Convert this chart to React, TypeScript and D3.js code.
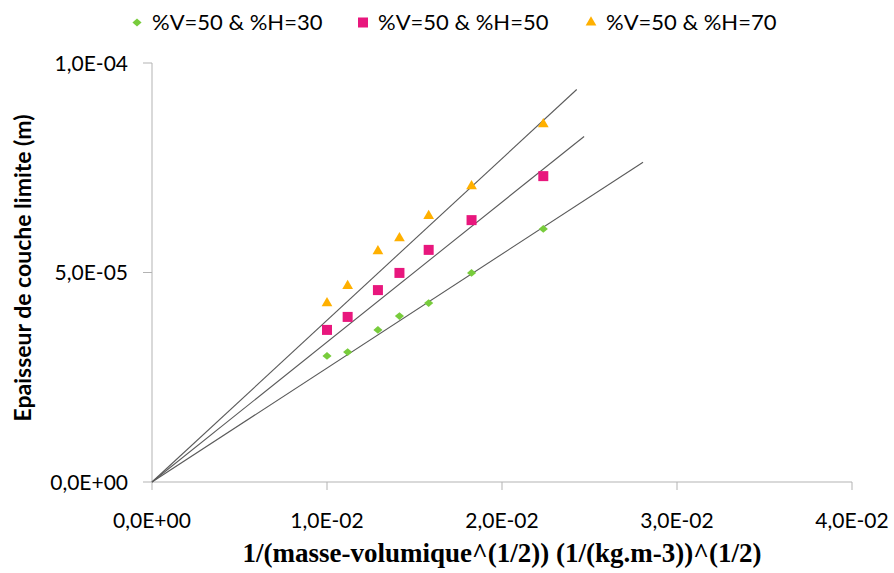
import React from "react";
import * as d3 from "d3";

const xValues = [0.01, 0.01118, 0.01291, 0.01414, 0.01581, 0.01826, 0.02236];
const seriesNames = ["%V=50 & %H=30", "%V=50 & %H=50", "%V=50 & %H=70"];
const seriesH30 = [3.01e-5, 3.10e-5, 3.63e-5, 3.96e-5, 4.27e-5, 4.99e-5, 6.04e-5];
const seriesH50 = [3.63e-5, 3.94e-5, 4.58e-5, 4.99e-5, 5.54e-5, 6.25e-5, 7.30e-5];
const seriesH70 = [4.27e-5, 4.68e-5, 5.51e-5, 5.82e-5, 6.35e-5, 7.06e-5, 8.54e-5];
const trendSlopes = [2.72e-3, 3.34e-3, 3.86e-3];
const trendEndX = [0.02806, 0.02469, 0.02427];
const xTicks = [0, 0.01, 0.02, 0.03, 0.04];
const yTicks = [0, 5e-5, 1e-4];
const colors = ["#78cc3c", "#e8177d", "#ffb000"];
const shapes = ["diamond", "square", "triangle"];

const fmt = (v: number) => {
  const [m, e] = v.toExponential(1).split("e");
  const n = parseInt(e, 10);
  const sign = n < 0 ? "-" : "+";
  const ab = Math.abs(n).toString().padStart(2, "0");
  return m.replace(".", ",") + "E" + sign + ab;
};

function Marker({ shape, x, y, color }: { shape: string; x: number; y: number; color: string }) {
  if (shape === "diamond") {
    const s = d3.symbol().type(d3.symbolDiamond2).size(44)();
    return <path d={s!} transform={`translate(${x},${y}) scale(1.1,0.95)`} fill={color} />;
  }
  if (shape === "square") {
    return <rect x={x - 5} y={y - 5} width={10} height={10} fill={color} />;
  }
  const s = d3.symbol().type(d3.symbolTriangle).size(50)();
  return <path d={s!} transform={`translate(${x},${y})`} fill={color} />;
}

export default function App() {
  const W = 894, H = 573;
  const x = d3.scaleLinear().domain([0, 0.04]).range([152, 852]);
  const y = d3.scaleLinear().domain([0, 1e-4]).range([482, 63]);
  const series = [seriesH30, seriesH50, seriesH70];
  const sans = "Lato, 'Open Sans', sans-serif";
  const legendX = [137, 363, 591];
  const line = d3.line<[number, number]>().x(d => x(d[0])).y(d => y(d[1]));

  return (
    <svg width={W} height={H} style={{ position: "absolute", left: 0, top: 0, background: "#fff" }}>
      {/* axes */}
      <line x1={152} y1={y(0)} x2={852} y2={y(0)} stroke="#b3b3b3" strokeWidth={1} />
      <line x1={152} y1={y(1e-4)} x2={152} y2={y(0)} stroke="#b3b3b3" strokeWidth={1} />
      {xTicks.map(t => (
        <g key={"xt" + t}>
          <line x1={x(t)} x2={x(t)} y1={y(0)} y2={y(0) + 8} stroke="#b3b3b3" />
          <text x={x(t)} y={528} textAnchor="middle" fontFamily={sans} fontSize={21} fill="#000">{fmt(t)}</text>
        </g>
      ))}
      {yTicks.map(t => (
        <g key={"yt" + t}>
          <line x1={143} x2={152} y1={y(t)} y2={y(t)} stroke="#b3b3b3" />
          <text x={128} y={y(t)} dy="0.36em" textAnchor="end" fontFamily={sans} fontSize={21} fill="#000">{fmt(t)}</text>
        </g>
      ))}
      {/* trend lines */}
      {trendSlopes.map((s, i) => (
        <path key={"tr" + i} d={line([[0, 0], [trendEndX[i], s * trendEndX[i]]])!} stroke="#5a5a5a" strokeWidth={1.1} fill="none" />
      ))}
      {/* markers */}
      {series.map((vals, i) =>
        vals.map((v, j) => (
          <Marker key={`m${i}-${j}`} shape={shapes[i]} x={x(xValues[j])} y={y(v)} color={colors[i]} />
        ))
      )}
      {/* legend */}
      {seriesNames.map((n, i) => (
        <g key={"lg" + i}>
          <Marker shape={shapes[i]} x={legendX[i]} y={22.5} color={colors[i]} />
          <text x={legendX[i] + 15} y={30} fontFamily={sans} fontSize={22} fill="#000">{n}</text>
        </g>
      ))}
      {/* axis titles */}
      <text x={502} y={562} textAnchor="middle" fontFamily="'Liberation Serif', 'Times New Roman', serif" fontWeight="bold" fontSize={27} fill="#000">
        1/(masse-volumique^(1/2)) (1/(kg.m-3))^(1/2)
      </text>
      <text transform={`translate(31,268) rotate(-90)`} textAnchor="middle" fontFamily={sans} fontWeight="bold" fontSize={23} fill="#000">
        Epaisseur de couche limite (m)
      </text>
    </svg>
  );
}
